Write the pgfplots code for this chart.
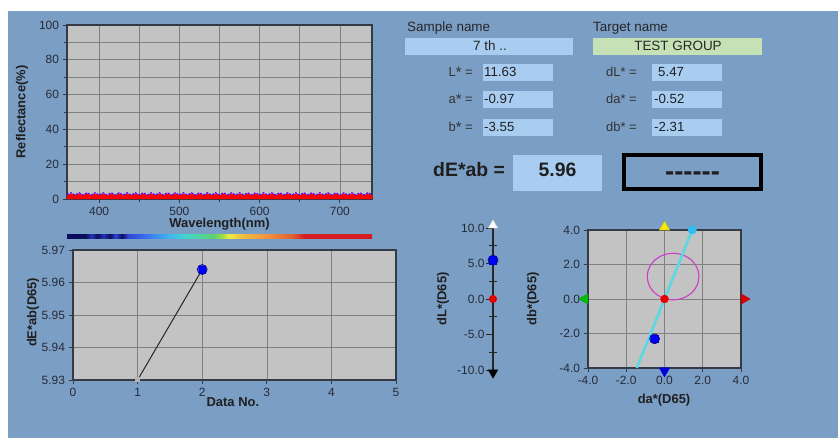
\documentclass[border=0pt]{standalone}
\usepackage{pgfplots}
\usepackage{pgfplotstable}
\pgfplotsset{compat=1.18}
\usepackage{fontspec}
\setmainfont{Liberation Sans}
\definecolor{panel}{HTML}{7B9EC5}
\definecolor{plotbg}{HTML}{C3C3C3}
\definecolor{gridc}{HTML}{808080}
\definecolor{framec}{HTML}{343A46}
\definecolor{boxblue}{HTML}{A9CDF1}
\definecolor{boxgreen}{HTML}{C6E1B6}
\definecolor{ticktext}{HTML}{262B38}
\definecolor{ellc}{HTML}{CC3CC8}
\definecolor{cyanl}{HTML}{5CD8E4}
\definecolor{sp0}{HTML}{0C0C5C}
\definecolor{sp1}{HTML}{2234B8}
\definecolor{sp2}{HTML}{2C44D8}
\definecolor{sp3}{HTML}{3A72F0}
\definecolor{sp4}{HTML}{40B2F0}
\definecolor{sp5}{HTML}{42D8D0}
\definecolor{sp6}{HTML}{5ED070}
\definecolor{sp7}{HTML}{98E040}
\definecolor{sp8}{HTML}{F0EE40}
\definecolor{sp9}{HTML}{F0C040}
\definecolor{sp10}{HTML}{F09040}
\definecolor{sp11}{HTML}{E06030}
\definecolor{sp12}{HTML}{D41C22}
\pgfdeclarehorizontalshading{spectrum}{100bp}{color(0bp)=(sp0); color(25bp)=(sp0); color(28bp)=(sp0); color(29bp)=(sp1); color(30bp)=(sp0); color(31bp)=(sp1); color(32bp)=(sp0); color(33bp)=(sp2); color(34bp)=(sp0); color(35bp)=(sp2); color(38bp)=(sp3); color(41.5bp)=(sp4); color(44.5bp)=(sp5); color(49bp)=(sp6); color(50.5bp)=(sp7); color(51.5bp)=(sp8); color(53.5bp)=(sp9); color(58bp)=(sp10); color(62bp)=(sp11); color(64bp)=(sp12); color(75bp)=(sp12); color(100bp)=(sp12)}

\pgfplotstableread{
x r p
360 2.1 2.3
365 2.9 3.6
370 2.1 2.3
375 2.9 3.6
380 2.1 2.3
385 2.9 3.6
390 2.1 2.3
395 2.9 3.6
400 2.1 2.3
405 2.9 3.6
410 2.1 2.3
415 2.9 3.6
420 2.1 2.3
425 2.9 3.6
430 2.1 2.3
435 2.9 3.6
440 2.1 2.3
445 2.9 3.6
450 2.1 2.3
455 2.9 3.6
460 2.1 2.3
465 2.9 3.6
470 2.1 2.3
475 2.9 3.6
480 2.1 2.3
485 2.9 3.6
490 2.1 2.3
495 2.9 3.6
500 2.1 2.3
505 2.9 3.6
510 2.1 2.3
515 2.9 3.6
520 2.1 2.3
525 2.9 3.6
530 2.1 2.3
535 2.9 3.6
540 2.1 2.3
545 2.9 3.6
550 2.1 2.3
555 2.9 3.6
560 2.1 2.3
565 2.9 3.6
570 2.1 2.3
575 2.9 3.6
580 2.1 2.3
585 2.9 3.6
590 2.1 2.3
595 2.9 3.6
600 2.1 2.3
605 2.9 3.6
610 2.1 2.3
615 2.9 3.6
620 2.1 2.3
625 2.9 3.6
630 2.1 2.3
635 2.9 3.6
640 2.1 2.3
645 2.9 3.6
650 2.1 2.3
655 2.9 3.6
660 2.1 2.3
665 2.9 3.6
670 2.1 2.3
675 2.9 3.6
680 2.1 2.3
685 2.9 3.6
690 2.1 2.3
695 2.9 3.6
700 2.1 2.3
705 2.9 3.6
710 2.1 2.3
715 2.9 3.6
720 2.1 2.3
725 2.9 3.6
730 2.1 2.3
735 2.9 3.6
740 2.1 2.3
}\refl

\pgfplotsset{
  panelaxis/.style={
    scale only axis, clip=false,
    axis background/.style={fill=plotbg},
    axis line style={framec, line width=1.6bp},
    grid style={gridc, line width=0.6bp},
    minor grid style={gridc, line width=0.6bp},
    tick style={framec, line width=0.8bp},
    tick align=outside, tick pos=left,
    major tick length=4.5bp, minor tick length=3bp,
    tick label style={font=\fontsize{12}{14}\selectfont, text=ticktext},
    label style={font=\bfseries\fontsize{13}{15}\selectfont, text=black!88},
    /pgf/number format/assume math mode=true,
  }
}

\begin{document}
\begin{tikzpicture}[x=1bp,y=1bp]
\useasboundingbox (0,0) rectangle (838,438);
\fill[white] (0,0) rectangle (838,438);
\fill[panel] (8,0) rectangle (838,427);

% ---------- Reflectance ----------
\begin{axis}[panelaxis, at={(67bp,239bp)}, anchor=south west, width=305bp, height=174bp,
  xmin=360, xmax=740, ymin=0, ymax=100,
  xtick={400,500,600,700}, minor xtick={450,550,650},
  ytick={0,20,40,60,80,100}, minor ytick={10,30,50,70,90},
  grid=both,
  xlabel={Wavelength(nm)}, ylabel={Reflectance(\%)},
  xlabel style={at={(axis description cs:0.5,-0.1437)}, anchor=center},
  ylabel style={at={(axis description cs:-0.1475,0.5)}, anchor=center},
]
\addplot[draw=red, fill=red, line width=0.5bp] table[x=x,y=r]{\refl} \closedcycle;
\addplot[smooth, color=blue!65!magenta, line width=1.1bp, dash pattern=on 2.2bp off 1.2bp] table[x=x,y=p]{\refl};
\end{axis}
\shade[shading=spectrum] (67,199) rectangle (372,203.5);

% ---------- dE*ab vs Data No. ----------
\begin{axis}[panelaxis, at={(73bp,58bp)}, anchor=south west, width=323bp, height=130bp,
  xmin=0, xmax=5, ymin=5.93, ymax=5.97,
  xtick={0,1,2,3,4,5}, ytick={5.93,5.94,5.95,5.96,5.97},
  yticklabel style={/pgf/number format/.cd, fixed, fixed zerofill, precision=2},
  grid=major,
  xlabel={Data No.}, ylabel={dE*ab(D65)},
  xlabel style={at={(axis description cs:0.495,-0.169)}, anchor=center},
  ylabel style={at={(axis description cs:-0.1238,0.52)}, anchor=center},
]
\addplot[black!85, line width=1bp] coordinates {(1,5.93) (2,5.964)};
\addplot[only marks, mark=square*, mark size=2bp, mark options={fill=gray!60, draw=gray!60}] coordinates {(1,5.9302)};
\addplot[only marks, mark=*, mark size=5bp, mark options={fill=blue!75, draw=blue!45!black, line width=0.6bp}] coordinates {(2,5.964)};
\addplot[only marks, mark=square*, mark size=3.4bp, mark options={fill=blue, draw=blue!80!black}] coordinates {(2,5.964)};
\end{axis}

% ---------- dL* scale ----------
\begin{axis}[scale only axis, clip=false, at={(493bp,68bp)}, anchor=south west, width=10bp, height=142bp,
  xmin=0, xmax=1, ymin=-10, ymax=10,
  axis x line=none, axis y line=left,
  axis line style={-, black!85, line width=1.3bp},
  ytick={-10,-5,0,5,10}, minor ytick={-7.5,-2.5,2.5,7.5},
  tick align=outside, major tick length=7bp, minor tick length=8bp,
  every minor tick/.append style={xshift=4bp},
  tick style={black!85, line width=0.8bp},
  tick label style={font=\fontsize{12}{14}\selectfont, text=ticktext},
  yticklabel style={xshift=2bp, /pgf/number format/.cd, fixed, fixed zerofill, precision=1},
  /pgf/number format/assume math mode=true,
  ylabel={dL*(D65)},
  label style={font=\bfseries\fontsize{13}{15}\selectfont, text=black!88},
  ylabel style={at={(axis description cs:-5.0,0.5)}, anchor=center},
]
\addplot[only marks, mark=triangle*, mark size=5.5bp, mark options={fill=white, draw=gray!40}] coordinates {(0,10.38)};
\addplot[only marks, mark=triangle*, mark size=5.5bp, mark options={fill=black, draw=black, rotate=180}] coordinates {(0,-10.38)};
\addplot[only marks, mark=*, mark size=3.8bp, mark options={fill=red!90!black, draw=red!90!black}] coordinates {(0,0)};
\addplot[only marks, mark=*, mark size=5bp, mark options={fill=blue!75, draw=blue!45!black, line width=0.6bp}] coordinates {(0,5.47)};
\addplot[only marks, mark=square*, mark size=3.6bp, mark options={fill=blue, draw=blue!80!black}] coordinates {(0,5.47)};
\end{axis}

% ---------- da* / db* ----------
\begin{axis}[panelaxis, at={(588bp,70bp)}, anchor=south west, width=153bp, height=138bp,
  xmin=-4, xmax=4, ymin=-4, ymax=4,
  xtick={-4,-2,0,2,4}, ytick={-4,-2,0,2,4},
  xticklabel style={/pgf/number format/.cd, fixed, fixed zerofill, precision=1},
  yticklabel style={/pgf/number format/.cd, fixed, fixed zerofill, precision=1},
  grid=major,
  xlabel={da*(D65)}, ylabel={db*(D65)},
  xlabel style={at={(axis description cs:0.497,-0.232)}, anchor=center},
  ylabel style={at={(axis description cs:-0.359,0.5)}, anchor=center},
]
\addplot[color=ellc, line width=1.1bp, smooth] coordinates {
(1.80,1.30) (1.754,1.649) (1.619,1.975) (1.405,2.255) (1.125,2.469) (0.799,2.604)
(0.45,2.65) (0.101,2.604) (-0.225,2.469) (-0.505,2.255) (-0.719,1.975) (-0.854,1.649)
(-0.90,1.30) (-0.854,0.951) (-0.719,0.625) (-0.505,0.345) (-0.225,0.131) (0.101,-0.004)
(0.45,-0.05) (0.799,-0.004) (1.125,0.131) (1.405,0.345) (1.619,0.625) (1.754,0.951) (1.80,1.30)};
\addplot[color=cyanl, line width=2.6bp] coordinates {(-1.45,-4) (1.45,4)};
\addplot[only marks, mark=*, mark size=4.2bp, mark options={fill=cyan!80!white, draw=cyan!80!white}] coordinates {(1.45,4)};
\addplot[only marks, mark=*, mark size=4bp, mark options={fill=red!90!black, draw=red!90!black}] coordinates {(0,0)};
\addplot[only marks, mark=*, mark size=5bp, mark options={fill=blue!75, draw=blue!45!black, line width=0.6bp}] coordinates {(-0.52,-2.31)};
\addplot[only marks, mark=square*, mark size=3.4bp, mark options={fill=blue, draw=blue!80!black}] coordinates {(-0.52,-2.31)};
\addplot[only marks, mark=triangle*, mark size=6bp, mark options={fill=yellow!90!orange, draw=yellow!70!black}] coordinates {(0,4.17)};
\addplot[only marks, mark=triangle*, mark size=6bp, mark options={fill=blue!85!black, draw=blue!85!black, rotate=180}] coordinates {(0,-4.17)};
\addplot[only marks, mark=triangle*, mark size=6bp, mark options={fill=green!75!black, draw=green!60!black, rotate=90}] coordinates {(-4.16,0)};
\addplot[only marks, mark=triangle*, mark size=6bp, mark options={fill=red!85!black, draw=red!70!black, rotate=-90}] coordinates {(4.16,0)};
\end{axis}

% ---------- text panel ----------
\tikzset{lab/.style={font=\fontsize{13.5}{15}\selectfont, text=black!85, inner sep=0pt, text height=0.72em, text depth=0pt},
         sm/.style={font=\fontsize{13}{15}\selectfont, text=black!80, inner sep=0pt, text height=0.72em, text depth=0pt},
         val/.style={font=\fontsize{13.3}{15}\selectfont, text=black!88, inner sep=0pt, text height=0.72em, text depth=0pt}}
\node[lab, anchor=west] at (407,410) {Sample name};
\node[lab, anchor=west] at (593,410) {Target name};
\fill[boxblue] (405,383) rectangle (573,400);
\fill[boxgreen] (593,383) rectangle (762,400);
\node[lab] at (490,391.5) {7 th ..};
\node[lab] at (678,391.5) {TEST GROUP};
% rows
\foreach \yc in {365,338,310} {
  \fill[boxblue] (483,\yc-8.5) rectangle (553,\yc+8.5);
  \fill[boxblue] (652,\yc-8.5) rectangle (722,\yc+8.5);
}
\node[sm, anchor=east] at (473,365) {L\raisebox{-0.2ex}{\fontsize{15}{15}\selectfont *} =};
\node[sm, anchor=east] at (473,338) {a\raisebox{-0.2ex}{\fontsize{15}{15}\selectfont *} =};
\node[sm, anchor=east] at (473,310) {b\raisebox{-0.2ex}{\fontsize{15}{15}\selectfont *} =};
\node[val, anchor=west] at (484,365) {11.63};
\node[val, anchor=west] at (484,338) {-0.97};
\node[val, anchor=west] at (484,310) {-3.55};
\node[sm, anchor=east] at (637,365) {dL* =};
\node[sm, anchor=east] at (637,338) {da* =};
\node[sm, anchor=east] at (637,310) {db* =};
\node[val, anchor=west] at (658,365) {5.47};
\node[val, anchor=west] at (654,338) {-0.52};
\node[val, anchor=west] at (654,310) {-2.31};
% dE
\node[font=\bfseries\fontsize{19.5}{22}\selectfont, text=black!88, inner sep=0pt, text height=0.72em, text depth=0pt, anchor=west] at (433,265) {dE*ab =};
\fill[boxblue] (513,247) rectangle (602,283);
\node[font=\bfseries\fontsize{19.5}{22}\selectfont, text=black!88, inner sep=0pt, text height=0.72em, text depth=0pt] at (557.5,265) {5.96};
\draw[black, line width=3.6bp] (624,248.8) rectangle (761,283.2);
\node[font=\bfseries\fontsize{27.5}{30}\selectfont, text=black!88, inner sep=0pt, anchor=base] at (692.5,257) {-{}-{}-{}-{}-{}-};
\end{tikzpicture}
\end{document}
